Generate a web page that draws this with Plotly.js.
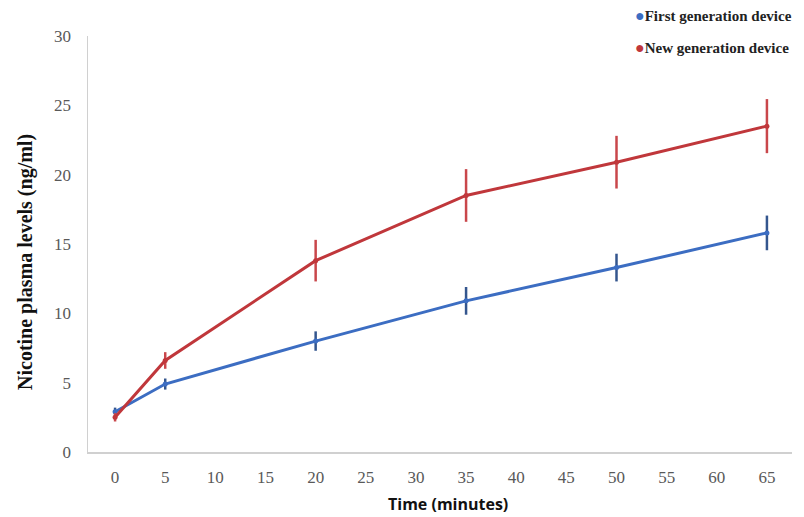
<!DOCTYPE html>
<html>
<head>
<meta charset="utf-8">
<script src="https://cdn.plot.ly/plotly-3.0.1.min.js"></script>
<style>html,body{margin:0;padding:0;background:#fff;}#chart{width:804px;height:517px;}</style>
</head>
<body>
<div id="chart"></div>
<script>
const times = [0, 5, 20, 35, 50, 65];
const firstGen = [2.9, 4.9, 8.0, 10.9, 13.3, 15.8];
const firstGenErr = [0.3, 0.4, 0.7, 1.0, 1.0, 1.25];
const newGen = [2.5, 6.6, 13.8, 18.5, 20.9, 23.5];
const newGenErr = [0.3, 0.6, 1.5, 1.9, 1.9, 1.95];
const xTicks = [0, 5, 10, 15, 20, 25, 30, 35, 40, 45, 50, 55, 60, 65];
const yTicks = [0, 5, 10, 15, 20, 25, 30];
const seriesNames = ["First generation device", "New generation device"];

const blue = "#3c6dc2", red = "#c0373b";
const serif = "Liberation Serif, Times New Roman, serif";

const traces = [
  {x: times, y: firstGen, name: seriesNames[0], mode: "lines+markers", type: "scatter",
   line: {color: blue, width: 3}, marker: {color: blue, size: 5},
   error_y: {type: "data", array: firstGenErr, visible: true, color: "#34568e", thickness: 2.5, width: 0}},
  {x: times, y: newGen, name: seriesNames[1], mode: "lines+markers", type: "scatter",
   line: {color: red, width: 3}, marker: {color: red, size: 5},
   error_y: {type: "data", array: newGenErr, visible: true, color: "#c9474b", thickness: 2.5, width: 0}}
];

const layout = {
  width: 804, height: 517,
  margin: {l: 88, r: 12, t: 36, b: 65},
  paper_bgcolor: "#fff", plot_bgcolor: "#fff",
  showlegend: false,
  xaxis: {range: [-2.7, 67.5], tickvals: xTicks, ticktext: xTicks.map(String),
          showgrid: false, zeroline: false, showline: true, linecolor: "#d0d0d0", linewidth: 1.5,
          ticks: "", ticklabelstandoff: 9,
          tickfont: {family: serif, size: 17, color: "#595959"}},
  yaxis: {range: [0, 30], tickvals: yTicks, ticktext: yTicks.map(String),
          showgrid: false, zeroline: false, showline: true, linecolor: "#d0d0d0", linewidth: 1.5,
          ticks: "", ticklabelstandoff: 12,
          tickfont: {family: serif, size: 17, color: "#595959"}},
  annotations: [
    {xref: "paper", yref: "paper", x: (25 - 88) / 704, y: (452 - 262) / 416, xanchor: "center", yanchor: "middle",
     text: "<b>Nicotine plasma levels (ng/ml)</b>", textangle: -90, showarrow: false,
     font: {family: serif, size: 20, color: "#111"}},
    {xref: "paper", yref: "paper", x: (448 - 88) / 704, y: (452 - 504) / 416, xanchor: "center", yanchor: "middle",
     text: "<b>Time (minutes)</b>", showarrow: false,
     font: {family: "Open Sans, Liberation Sans, sans-serif", size: 16, color: "#111"}},
    {xref: "paper", yref: "paper", x: (633 - 88) / 704, y: (452 - 15) / 416, xanchor: "left", yanchor: "middle",
     text: "<span style='color:" + blue + ";font-size:16px'>●</span><b>" + seriesNames[0] + "</b>", showarrow: false,
     font: {family: serif, size: 15, color: "#222"}},
    {xref: "paper", yref: "paper", x: (633 - 88) / 704, y: (452 - 47) / 416, xanchor: "left", yanchor: "middle",
     text: "<span style='color:" + red + ";font-size:16px'>●</span><b>" + seriesNames[1] + "</b>", showarrow: false,
     font: {family: serif, size: 15, color: "#222"}}
  ]
};

Plotly.newPlot("chart", traces, layout, {displayModeBar: false, staticPlot: true});
</script>
</body>
</html>
